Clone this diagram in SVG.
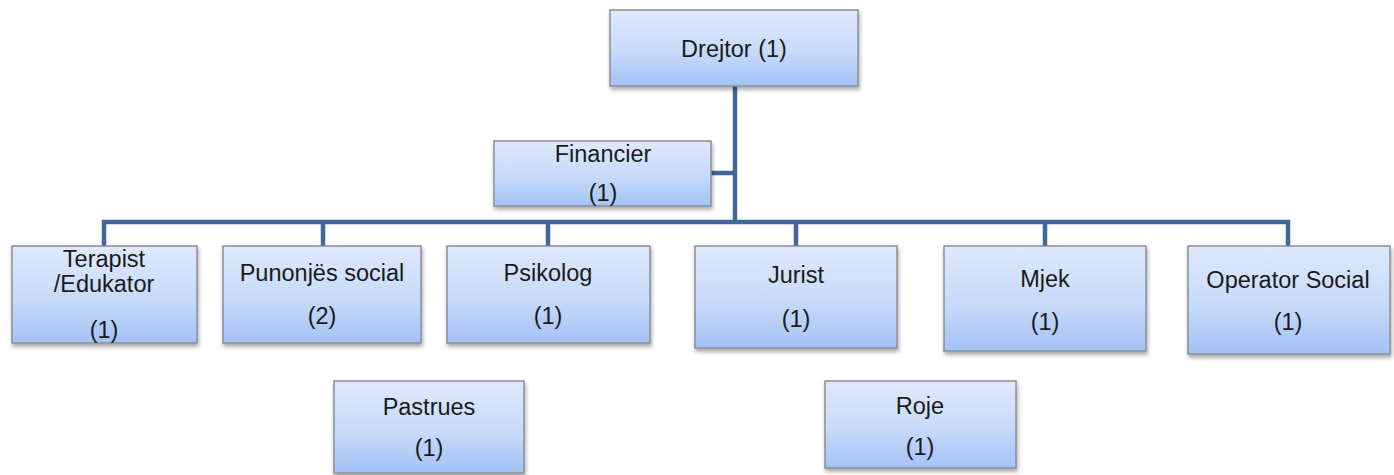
<svg xmlns="http://www.w3.org/2000/svg" width="1394" height="475" viewBox="0 0 1394 475">
<defs>
<linearGradient id="g" x1="0" y1="0" x2="0" y2="1">
<stop offset="0" stop-color="#dfe9fd"/>
<stop offset="0.55" stop-color="#c7daf9"/>
<stop offset="1" stop-color="#a3c2f6"/>
</linearGradient>
<filter id="sh" x="-5%" y="-5%" width="115%" height="125%">
<feGaussianBlur in="SourceAlpha" stdDeviation="2"/>
<feOffset dx="1" dy="3" result="b"/>
<feComponentTransfer><feFuncA type="linear" slope="0.35"/></feComponentTransfer>
<feMerge><feMergeNode/><feMergeNode in="SourceGraphic"/></feMerge>
</filter>
</defs>
<style>
rect{fill:url(#g);stroke:#8a8f97;stroke-width:1.5;filter:url(#sh)}
text{font-family:"Liberation Sans",Arial,sans-serif;font-size:23.5px;fill:#1a1a1a;text-anchor:middle}
.c{fill:none;stroke:#41679a;stroke-width:4.5}
</style>
<rect width="1394" height="475" style="fill:#fff;stroke:none;filter:none"/>
<g id="connectors">
<path class="c" d="M735 86V222M711 173H735M104 246V222H1288V246M323 222V246M548 222V246M796 222V246M1045 222V246"/>
</g>
<g id="drejtor"><rect x="610" y="10" width="248" height="76"/><text x="734" y="57">Drejtor (1)</text></g>
<g id="financier"><rect x="494" y="141" width="217" height="65"/><text x="603" y="162">Financier</text><text x="603" y="201">(1)</text></g>
<g id="terapist"><rect x="12" y="246" width="185" height="97"/><text x="104" y="267">Terapist</text><text x="104" y="292">/Edukator</text><text x="104" y="338">(1)</text></g>
<g id="punonjes"><rect x="223" y="246" width="198" height="97"/><text x="322" y="281">Punonjës social</text><text x="322" y="324">(2)</text></g>
<g id="psikolog"><rect x="447" y="246" width="203" height="97"/><text x="548" y="281">Psikolog</text><text x="548" y="324">(1)</text></g>
<g id="jurist"><rect x="695" y="246" width="202" height="102"/><text x="796" y="283">Jurist</text><text x="796" y="327">(1)</text></g>
<g id="mjek"><rect x="944" y="246" width="202" height="105"/><text x="1045" y="287">Mjek</text><text x="1045" y="330">(1)</text></g>
<g id="operator"><rect x="1188" y="246" width="202" height="108"/><text x="1288" y="288">Operator Social</text><text x="1288" y="330">(1)</text></g>
<g id="pastrues"><rect x="334" y="381" width="190" height="92"/><text x="429" y="415">Pastrues</text><text x="429" y="456">(1)</text></g>
<g id="roje"><rect x="825" y="381" width="191" height="87"/><text x="920" y="414">Roje</text><text x="920" y="455">(1)</text></g>
</svg>
